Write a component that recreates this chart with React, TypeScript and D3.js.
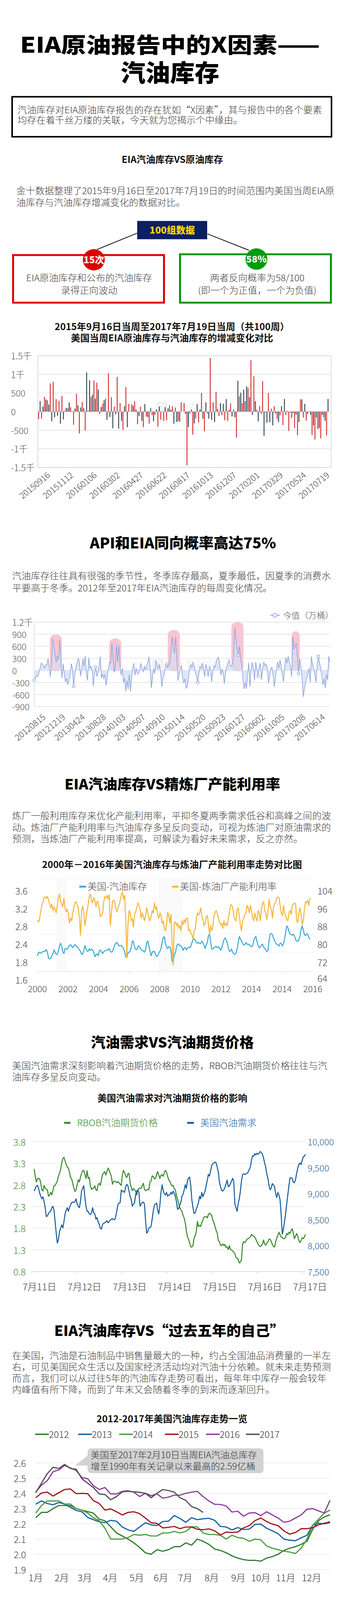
import React from 'react';
import * as d3 from 'd3';

const FONT = "'Noto Sans CJK SC', 'Noto Sans', sans-serif";

// ---------- chart 1: weekly change, crude vs gasoline (万桶)
const weekLabels1 = ['20150916', '20151112', '20160106', '20160302', '20160427', '20160622', '20160817',
  '20161013', '20161207', '20170201', '20170329', '20170524', '20170719'];
const crudeChange = [
  -204, -190, 395, 306, 755, 803, 337, 286, 422, 24,
  95, 119, -354, 480, -585, 262, -507, 24, 395, 837,
  776, -61, 214, 350, 1034, 384, 133, 932, 231, -490,
  660, 207, 197, 276, -337, 133, -418, -133, -323, -92,
  -85, -401, -218, -248, -231, 170, 143, 105, -252, 252,
  228, -1442, -51, -616, -184, -290, 500, -520, -50, 1440,
  250, 530, -120, -90, -230, -250, 220, 60, -700, 410,
  230, 280, 640, 1380, 950, 50, 150, 820, -20, 500,
  80, 150, -200, -100, -360, -90, -520, -170, -440, -640,
  330, -160, -240, 10, -630, -750, -470, -720, -150, -640,
];
const gasolineChange = [
  286, 139, 327, 190, -258, -150, -112, -327, -207, 102,
  248, 14, 82, 173, 112, 92, 1054, 840, 456, 347,
  592, 126, 306, -221, -143, -449, -71, -459, -248, 143,
  -418, 5, 160, 51, -119, -248, 204, -146, 99, -258,
  58, 139, -3, 122, 88, 48, -323, -279, -269, 0,
  -65, -415, 54, -316, 201, 60, -190, 250, -190, -220,
  -280, 70, 230, 210, 340, 50, -130, -150, 830, 510,
  590, 680, 390, -90, 280, -260, -50, -650, -300, -280,
  -370, -50, -280, 150, 340, 20, -20, -40, -80, -280,
  330, 210, -60, -90, -370, -160, -440, -90, -250, 340,
];
const yTicks1 = [1500, 1000, 500, 0, -500, -1000, -1500];
const yTickLabels1 = ['1.5千', '1千', '500', '0', '-500', '-1千', '-1.5千'];

// ---------- chart 2: EIA gasoline weekly change 2012-2017 (万桶)
const eiaWeekly = [
  -240, -190, -140, -160, -60, 50, 180, 160, 120, 60,
  140, 130, 300, 80, -160, 200, 800, 620, 400, 200,
  360, 260, 750, 300, -190, 170, -100, -285, -200, -360,
  -250, -120, 170, 50, -395, -100, 80, 180, 300, 220,
  -140, 40, 290, 100, 360, -80, -250, 320, 60, 100,
  20, -395, -60, 80, -150, -50, 120, 350, -190, -100,
  -200, -100, -380, -150, 50, 200, 180, 680, 300, -50,
  100, 630, 200, 620, 100, -120, 60, -300, -200, -520,
  -250, -470, -100, -520, -200, 80, 180, -120, 60, -80,
  -90, 40, 180, 50, -30, 100, 20, 120, 200, 340,
  100, -440, -200, 50, -80, 240, 120, 60, 150, -50,
  -410, -200, -120, 100, 190, 60, 170, 150, 500, 840,
  540, 420, 840, 300, -250, -100, 50, 120, -180, -315,
  -200, -440, -410, -190, 40, 150, 80, 200, 120, -60,
  -150, -300, -80, 100, 60, 180, 30, -160, 150, 60,
  -160, 100, 50, -285, -40, 120, 80, 230, 290, 330,
  150, -120, 40, -100, -330, -50, 80, 180, 260, 120,
  100, 160, 350, 1060, 750, 540, 380, 600, 300, 120,
  -220, -457, -300, -457, -100, 190, -410, 20, 200, 60,
  -250, 210, 50, -140, 100, 180, -240, 60, 210, 120,
  150, 60, -315, -150, 40, 80, -120, -410, -200, 50,
  215, 60, 260, 100, -120, -280, 80, 320, 180, 350,
  200, 120, -160, 840, 530, 600, 680, 300, -80, 290,
  80, -200, -660, -450, -315, -200, -100, 60, -300, 350,
  150, 40, -100, -300, 120, 350, 200, 60, -150, -360,
  -200, -440, -100, -236, 350, 200,
];
const apiTickLabels = ['20120815', '20121219', '20130424', '20130828', '20140103', '20140507', '20140910',
  '20150114', '20150520', '20150923', '20160127', '20160602', '20161005', '20170208', '20170614'];
const apiTickWeeks = [7, 24, 41, 59, 76, 93, 110, 127, 145, 162, 179, 196, 213, 231, 248];
const winterPeaks = [[13.5, 23.9, 890], [64.7, 75.1, 795], [115.2, 125.6, 1003], [170, 180.5, 1200], [222, 229, 975]];
const markerWeeks = [0, 34, 53, 141, 176, 193, 228, 245];
const yTicks2 = [1200, 900, 600, 300, 0, -300, -600, -900];
const yTickLabels2 = ['1.2千', '900', '600', '300', '0', '-300', '-600', '-900'];

// ---------- chart 3: gasoline stock vs refinery utilisation 2000-2017
const yearStart3 = 2000.01;
const yearStep3 = 0.0721;
const yearTicks3 = [2000, 2002, 2004, 2006, 2008, 2010, 2012, 2014, 2016, 2018];
const yearTickLabels3 = ['2000', '2002', '2004', '2006', '2008', '2010', '2012', '2014', '2014', '2016'];
const leftTicks3 = [3.6, 3.2, 2.8, 2.4, 2.0, 1.6];
const leftTickLabels3 = ['3.6', '3.2', '2.8', '2.4', '1.8', '1.6'];
const rightTicks3 = [104, 96, 88, 80, 72, 64];
const recessions3 = [[2001.25, 2001.9], [2007.95, 2009.5]];
const gasStock3 = [
  2.14, 2.22, 2.21, 2.20, 2.22, 2.23, 2.24, 2.24, 2.28, 2.22,
  2.09, 2.07, 2.08, 2.14, 2.19, 2.27, 2.22, 2.17, 2.17, 2.26,
  2.37, 2.42, 2.34, 2.22, 2.19, 2.30, 2.29, 2.29, 2.33, 2.37,
  2.39, 2.35, 2.32, 2.36, 2.39, 2.37, 2.34, 2.31, 2.27, 2.24,
  2.17, 2.18, 2.26, 2.37, 2.29, 2.24, 2.24, 2.30, 2.26, 2.28,
  2.27, 2.22, 2.12, 2.16, 2.18, 2.14, 2.25, 2.27, 2.23, 2.19,
  2.23, 2.25, 2.26, 2.27, 2.28, 2.30, 2.24, 2.22, 2.23, 2.31,
  2.38, 2.42, 2.44, 2.40, 2.36, 2.37, 2.37, 2.34, 2.30, 2.23,
  2.12, 2.10, 2.20, 2.22, 2.24, 2.33, 2.47, 2.46, 2.34, 2.28,
  2.28, 2.34, 2.36, 2.32, 2.27, 2.26, 2.24, 2.22, 2.27, 2.44,
  2.47, 2.36, 2.24, 2.14, 2.22, 2.24, 2.24, 2.17, 2.12, 2.14,
  2.20, 2.24, 2.30, 2.44, 2.54, 2.57, 2.42, 2.34, 2.30, 2.34,
  2.34, 2.26, 2.02, 1.98, 2.17, 2.20, 2.34, 2.40, 2.40, 2.37,
  2.36, 2.33, 2.26, 2.31, 2.32, 2.27, 2.32, 2.33, 2.32, 2.35,
  2.43, 2.50, 2.52, 2.49, 2.44, 2.42, 2.44, 2.41, 2.41, 2.47,
  2.43, 2.38, 2.30, 2.39, 2.44, 2.59, 2.63, 2.44, 2.29, 2.29,
  2.32, 2.34, 2.35, 2.32, 2.34, 2.31, 2.26, 2.32, 2.40, 2.50,
  2.54, 2.50, 2.43, 2.32, 2.24, 2.24, 2.29, 2.22, 2.18, 2.17,
  2.20, 2.30, 2.44, 2.57, 2.52, 2.47, 2.42, 2.38, 2.39, 2.44,
  2.40, 2.39, 2.40, 2.36, 2.34, 2.36, 2.48, 2.54, 2.57, 2.46,
  2.37, 2.32, 2.33, 2.38, 2.40, 2.33, 2.31, 2.27, 2.23, 2.27,
  2.50, 2.63, 2.64, 2.61, 2.53, 2.47, 2.42, 2.40, 2.38, 2.36,
  2.42, 2.42, 2.36, 2.40, 2.52, 2.67, 2.81, 2.77, 2.68, 2.63,
  2.62, 2.60, 2.62, 2.58, 2.50, 2.47, 2.46, 2.50, 2.58, 2.73,
  2.81, 2.71, 2.61, 2.59, 2.63, 2.62, 2.55, 2.51,
];
const refineryUtil3 = [
  90.8, 90.0, 91.7, 94.8, 97.7, 98.8, 100.8, 101.3, 100.5, 101.4,
  99.9, 98.0, 96.3, 98.0, 95.1, 96.8, 95.7, 94.0, 97.4, 100.8,
  102.5, 99.1, 97.7, 96.8, 100.5, 96.3, 94.5, 95.7, 93.4, 89.4,
  91.7, 90.5, 94.0, 96.8, 98.5, 99.1, 97.4, 96.3, 91.7, 84.0,
  95.1, 97.1, 94.0, 88.3, 91.7, 95.1, 98.0, 101.4, 102.5, 99.7,
  98.5, 100.8, 99.7, 96.8, 99.1, 99.1, 95.7, 92.3, 92.8, 94.0,
  98.5, 101.4, 100.8, 101.9, 100.2, 102.2, 88.3, 94.0, 99.1, 99.7,
  99.1, 96.3, 94.5, 96.3, 97.4, 99.7, 102.2, 103.4, 100.2, 101.9,
  91.7, 74.0, 88.8, 95.1, 94.0, 90.5, 91.4, 87.7, 93.4, 94.5,
  96.3, 98.5, 97.4, 95.7, 91.7, 94.0, 92.3, 90.5, 92.8, 96.3,
  94.0, 91.7, 90.5, 92.3, 95.1, 94.0, 98.5, 95.7, 96.8, 92.8,
  91.7, 94.0, 92.8, 89.4, 90.5, 87.1, 86.0, 88.8, 94.3, 92.8,
  89.4, 93.4, 80.3, 70.6, 89.4, 90.0, 88.3, 89.4, 87.1, 88.3,
  86.0, 90.5, 88.8, 91.1, 89.4, 91.7, 91.7, 86.0, 86.6, 84.9,
  84.3, 82.3, 86.0, 86.6, 91.1, 94.0, 93.1, 94.0, 96.3, 92.3,
  91.1, 88.3, 89.4, 92.5, 92.8, 88.8, 84.3, 88.3, 86.0, 88.3,
  92.8, 94.0, 95.1, 93.7, 91.7, 90.0, 88.8, 89.4, 87.1, 90.5,
  88.3, 89.4, 88.3, 91.7, 94.5, 97.4, 97.7, 96.3, 92.8, 91.1,
  90.5, 95.7, 96.3, 92.3, 88.3, 86.0, 90.5, 91.7, 93.4, 94.0,
  97.4, 96.3, 94.0, 97.4, 95.1, 91.7, 90.5, 94.0, 91.7, 90.5,
  95.1, 94.0, 90.5, 95.7, 98.5, 99.1, 95.1, 94.0, 91.1, 95.1,
  100.2, 96.8, 95.7, 91.7, 96.8, 98.0, 99.1, 100.8, 101.1, 100.8,
  97.4, 94.0, 92.8, 97.4, 94.0, 92.8, 91.1, 90.5, 94.0, 95.1,
  93.4, 97.4, 98.0, 98.5, 98.0, 90.5, 89.7, 94.0, 96.3, 92.8,
  88.8, 90.5, 95.7, 99.1, 98.5, 99.7, 97.4, 100.8,
];

// ---------- chart 4: RBOB price vs US gasoline demand
const dayStart4 = 11.0555;
const dayStep4 = 0.02446;
const dayTicks4 = [11, 12, 13, 14, 15, 16, 17];
const dayLabels4 = ['7月11日', '7月12日', '7月13日', '7月14日', '7月15日', '7月16日', '7月17日'];
const leftTicks4 = [3.8, 3.3, 2.8, 2.3, 1.8, 1.3, 0.8];
const rightTicks4 = [10000, 9500, 9000, 8500, 8000, 7500];
const rbobPrice = [
  3.17, 3.00, 2.87, 2.95, 2.96, 2.94, 2.84, 2.69, 2.66, 2.79,
  2.73, 2.70, 2.69, 2.54, 2.57, 2.63, 2.57, 2.67, 2.78, 2.79,
  2.84, 2.89, 3.01, 3.07, 3.16, 3.31, 3.41, 3.44, 3.36, 3.28,
  3.22, 3.19, 3.10, 2.97, 2.94, 2.84, 2.73, 2.65, 2.69, 2.81,
  2.92, 2.87, 2.98, 3.07, 3.13, 3.14, 3.04, 2.95, 3.13, 2.95,
  2.98, 2.78, 2.70, 2.72, 2.73, 2.78, 2.69, 2.67, 2.81, 2.84,
  2.79, 2.92, 3.04, 3.08, 3.11, 3.03, 3.11, 3.19, 3.14, 3.07,
  3.00, 2.82, 2.88, 2.89, 2.88, 2.85, 2.88, 2.85, 2.82, 2.79,
  3.04, 3.14, 3.08, 3.01, 2.97, 3.06, 3.07, 2.85, 2.75, 2.67,
  2.72, 2.69, 2.66, 2.57, 2.69, 2.72, 2.73, 2.72, 2.78, 2.84,
  2.70, 2.67, 2.69, 2.70, 2.69, 2.87, 2.89, 3.01, 3.00, 2.94,
  2.95, 3.04, 3.11, 3.03, 2.95, 3.03, 3.04, 3.00, 3.08, 3.14,
  3.10, 3.00, 2.92, 2.89, 2.82, 2.78, 2.79, 2.72, 2.69, 2.56,
  2.48, 2.37, 2.28, 2.23, 2.19, 2.10, 2.04, 1.93, 1.75, 1.60,
  1.55, 1.46, 1.37, 1.37, 1.40, 1.58, 1.63, 1.72, 1.96, 1.84,
  1.87, 1.84, 1.93, 1.99, 2.06, 2.07, 2.07, 2.04, 2.12, 2.15,
  2.13, 2.09, 1.99, 1.93, 1.84, 1.75, 1.69, 1.52, 1.49, 1.41,
  1.40, 1.44, 1.40, 1.43, 1.36, 1.37, 1.31, 1.40, 1.31, 1.30,
  1.28, 1.25, 1.22, 1.12, 1.11, 1.09, 1.00, 1.02, 1.08, 1.43,
  1.49, 1.47, 1.50, 1.55, 1.56, 1.58, 1.60, 1.66, 1.63, 1.62,
  1.60, 1.55, 1.49, 1.44, 1.40, 1.38, 1.40, 1.43, 1.53, 1.44,
  1.41, 1.46, 1.49, 1.55, 1.55, 1.49, 1.43, 1.38, 1.37, 1.49,
  1.58, 1.63, 1.71, 1.65, 1.60, 1.59, 1.56, 1.56, 1.60, 1.68,
  1.65, 1.71, 1.68, 1.75, 1.79, 1.69, 1.56, 1.62, 1.68, 1.62,
  1.52, 1.47, 1.52, 1.58, 1.56, 1.60, 1.66,
];
const gasDemand = [
  9050, 9100, 9150, 9160, 9100, 9010, 8950, 8900, 8940, 8850,
  8730, 8560, 8570, 8620, 8650, 8660, 8730, 8760, 8680, 8460,
  8240, 8050, 8120, 8270, 8340, 8400, 8340, 8460, 8610, 8680,
  8730, 8660, 8730, 8780, 8830, 8840, 8830, 8850, 8900, 8800,
  8760, 8730, 8850, 9050, 9110, 9150, 8930, 8760, 8660, 8660,
  8610, 8600, 8630, 8730, 8630, 8610, 8510, 8540, 8460, 8410,
  8330, 8320, 8410, 8430, 8440, 8460, 8480, 8440, 8460, 8490,
  8510, 8520, 8500, 8500, 8560, 8680, 8790, 8820, 8830, 9070,
  9050, 9040, 9025, 9135, 9180, 9150, 9050, 8950, 8890, 8760,
  8800, 8820, 8980, 9050, 9070, 9025, 8760, 8800, 8830, 8840,
  8800, 8490, 8240, 8270, 8340, 8350, 8370, 8510, 8660, 8780,
  8800, 8820, 8680, 8610, 8780, 9025, 9170, 9060, 9000, 8975,
  9025, 8950, 8975, 8975, 9025, 8990, 9050, 9010, 8950, 8850,
  8700, 8710, 8780, 8830, 8950, 8990, 9070, 9170, 9100, 9245,
  9305, 9320, 9150, 8880, 8730, 8620, 8630, 8700, 8760, 8830,
  8950, 8900, 9025, 8940, 9000, 9050, 9160, 9260, 9370, 9340,
  9440, 9540, 9575, 9590, 9610, 9590, 9510, 9415, 9220, 9135,
  9060, 9050, 9075, 9120, 9185, 9260, 9135, 9150, 9195, 9245,
  9295, 9230, 8805, 8730, 8660, 8805, 8900, 9050, 9245, 9370,
  9380, 9370, 9380, 9390, 9415, 9465, 9510, 9635, 9730, 9720,
  9770, 9745, 9780, 9760, 9780, 9810, 9795, 9760, 9685, 9590,
  9510, 9370, 9295, 9150, 9075, 9110, 9195, 9170, 9135, 9000,
  8925, 9025, 8975, 8880, 8585, 8220, 8315, 8460, 8610, 8805,
  8975, 9150, 9305, 9305, 9295, 9220, 9210, 9270, 9390, 9490,
  9560, 9590, 9560, 9635, 9710, 9720, 9760,
];

// ---------- chart 5: weekly gasoline stock by year (亿桶)
const monthLabels5 = ['1月', '2月', '3月', '4月', '5月', '6月', '7月', '8月', '9月', '10月', '11月', '12月'];
const monthWeeks5 = [0, 4.5, 8.5, 12.9, 17.5, 21.7, 25.9, 30.5, 35.1, 39.0, 43.3, 47.8];
const yTicks5 = [2.6, 2.5, 2.4, 2.3, 2.2, 2.1, 2.0, 1.9];
const stock2012 = [2.24, 2.275, 2.275, 2.30, 2.32, 2.32, 2.32, 2.30, 2.29, 2.28, 2.27, 2.23, 2.22, 2.18, 2.14, 2.12, 2.10, 2.075, 2.045, 2.01,
  2.00, 2.03, 2.02, 2.03, 2.05, 2.05, 2.075, 2.06, 2.10, 2.085, 2.065, 2.035, 2.025, 2.01, 1.99, 1.975, 1.965, 1.96, 1.96, 1.955,
  1.975, 1.985, 2.00, 2.025, 2.04, 2.05, 2.065, 2.085, 2.165, 2.22, 2.245, 2.26];
const stock2013 = [2.329, 2.35, 2.333, 2.325, 2.34, 2.329, 2.308, 2.288, 2.279, 2.242, 2.227, 2.213, 2.208, 2.223, 2.217, 2.179, 2.16, 2.15, 2.179, 2.207,
  2.193, 2.189, 2.215, 2.217, 2.254, 2.235, 2.21, 2.24, 2.227, 2.233, 2.236, 2.223, 2.183, 2.179, 2.16, 2.175, 2.163, 2.165, 2.196, 2.198,
  2.171, 2.154, 2.135, 2.10, 2.092, 2.089, 2.108, 2.125, 2.192, 2.204, 2.20, 2.208];
const stock2014 = [2.27, 2.32, 2.35, 2.35, 2.35, 2.33, 2.33, 2.30, 2.29, 2.27, 2.24, 2.22, 2.17, 2.10, 2.10, 2.10, 2.11, 2.13, 2.125, 2.13,
  2.12, 2.12, 2.14, 2.14, 2.15, 2.14, 2.15, 2.18, 2.18, 2.14, 2.13, 2.13, 2.125, 2.10, 2.125, 2.11, 2.105, 2.085, 2.10, 2.095,
  2.055, 2.04, 2.03, 2.02, 2.015, 2.005, 2.04, 2.10, 2.19, 2.23, 2.27, 2.29];
const stock2015 = [2.371, 2.402, 2.408, 2.382, 2.404, 2.425, 2.429, 2.398, 2.40, 2.398, 2.352, 2.333, 2.29, 2.298, 2.279, 2.258, 2.275, 2.279, 2.267, 2.238,
  2.207, 2.203, 2.173, 2.177, 2.183, 2.168, 2.179, 2.179, 2.164, 2.161, 2.167, 2.154, 2.127, 2.146, 2.143, 2.146, 2.173, 2.188, 2.221, 2.238,
  2.215, 2.198, 2.188, 2.154, 2.132, 2.143, 2.168, 2.168, 2.175, 2.193, 2.204, 2.213];
const stock2016 = [2.408, 2.454, 2.483, 2.542, 2.554, 2.583, 2.567, 2.55, 2.504, 2.496, 2.45, 2.425, 2.438, 2.396, 2.396, 2.413, 2.417, 2.408, 2.379, 2.40,
  2.385, 2.396, 2.368, 2.375, 2.388, 2.388, 2.40, 2.408, 2.413, 2.379, 2.35, 2.328, 2.327, 2.317, 2.277, 2.283, 2.25, 2.271, 2.273, 2.254,
  2.279, 2.258, 2.238, 2.21, 2.217, 2.238, 2.258, 2.296, 2.30, 2.285, 2.271, 2.354];
const stock2017 = [2.404, 2.467, 2.529, 2.571, 2.563, 2.59, 2.563, 2.558, 2.496, 2.467, 2.438, 2.396, 2.392, 2.358, 2.379, 2.41, 2.413, 2.41, 2.407, 2.40,
  2.371, 2.40, 2.425, 2.418, 2.408, 2.371, 2.354, 2.313, 2.30, 2.275];
const yearSeries5 = [
  { name: '2012', data: stock2012, color: '#2d7a2e' },
  { name: '2013', data: stock2013, color: '#135fa3' },
  { name: '2014', data: stock2014, color: '#4a9d3f' },
  { name: '2015', data: stock2015, color: '#a11414' },
  { name: '2016', data: stock2016, color: '#8b3b98' },
  { name: '2017', data: stock2017, color: '#505050' },
];

// the capture comes back 4096 px tall, so the 4200-unit layout is fitted into it
const PAGE_W = 880;
const PAGE_H = 4200;
const OUT_H = 4096;
const BODY = '#3c3c3c';

const Txt = ({ x, y, s = 24, w = 300, fill = BODY, anchor = 'start', children, ...rest }: any) => (
  <text x={x} y={y} fontSize={s} fontWeight={w} fill={fill} textAnchor={anchor} fontFamily={FONT} {...rest}>{children}</text>
);

const Para = ({ x, y, lines, dy = 30 }: { x: number; y: number; lines: string[]; dy?: number }) => (
  <g>
    {lines.map((l, i) => <Txt key={i} x={x} y={y + i * dy}>{l}</Txt>)}
  </g>
);

// rotated axis label, anchored at its end
const Slanted = ({ x, y, label }: { x: number; y: number; label: string }) => (
  <g transform={`translate(${x},${y}) rotate(-40)`}>
    <Txt x={0} y={0} s={22} fill="#444" anchor="end">{label}</Txt>
  </g>
);

const Watermark = ({ x, y }: { x: number; y: number }) => (
  <g opacity={0.55}>
    <rect x={x} y={y - 22} width={28} height={26} rx={6} fill="#e4e4e4" />
    <circle cx={x + 14} cy={y - 9} r={7} fill="none" stroke="#fff" strokeWidth={2.5} />
    <Txt x={x + 35} y={y} s={25} fill="#dcdcdc">金十数据中心</Txt>
  </g>
);

function Chart1() {
  const x = d3.scaleBand<number>().domain(d3.range(crudeChange.length)).range([97, 841]);
  const sub = d3.scaleBand<string>().domain(['crude', 'gas']).range([0, x.bandwidth()]).paddingInner(0.4).paddingOuter(0.2);
  const y = d3.scaleLinear().domain([-1500, 1500]).range([1227, 934]);
  const bar = (v: number, i: number, key: string, color: string) => (
    <rect key={key + i} x={(x(i) ?? 0) + (sub(key) ?? 0)} width={sub.bandwidth()}
      y={Math.min(y(v), y(0))} height={Math.abs(y(v) - y(0))} fill={color} />
  );
  return (
    <g>
      {yTicks1.map(t => <line key={t} x1={97} x2={847} y1={y(t)} y2={y(t)} stroke="#e3e3e3" strokeWidth={2} />)}
      <rect x={97} y={934} width={750} height={293} fill="none" stroke="#dcdcdc" strokeWidth={2} />
      {yTicks1.map((t, i) => <Txt key={t} x={28} y={y(t)} s={23} fill="#555" dominantBaseline="central">{yTickLabels1[i]}</Txt>)}
      <Watermark x={400} y={1076} />
      {crudeChange.map((v, i) => bar(v, i, 'crude', '#d4272b'))}
      {gasolineChange.map((v, i) => bar(v, i, 'gas', '#2b3d4f'))}
      {weekLabels1.map((l, k) => <Slanted key={l} x={(x(k * 8) ?? 0) + 33} y={1250} label={l} />)}
    </g>
  );
}

function Chart2() {
  const x = d3.scaleLinear().domain([0, eiaWeekly.length - 1]).range([87.4, 844]);
  const y = d3.scaleLinear().domain([-900, 1200]).range([1855, 1633]);
  const area = d3.area<number>().x((_, i) => x(i)).y0(y(0)).y1(d => y(d));
  const line = d3.line<number>().x((_, i) => x(i)).y(d => y(d));
  return (
    <g>
      {yTicks2.map(t => <line key={t} x1={87} x2={844} y1={y(t)} y2={y(t)} stroke="#e6e6e6" strokeWidth={2} />)}
      <line x1={87.4} x2={87.4} y1={1633} y2={1855} stroke="#dadada" strokeWidth={1.5} />
      {yTicks2.map((t, i) => <Txt key={t} x={31} y={y(t)} s={23} fill="#555" dominantBaseline="central">{yTickLabels2[i]}</Txt>)}
      {winterPeaks.map(([a, b, top], i) => (
        <rect key={i} x={x(a)} width={x(b) - x(a)} y={y(top)} height={y(-20) - y(top)} rx={14} fill="#f9c5d2" />
      ))}
      <Watermark x={390} y={1752} />
      <path d={area(eiaWeekly) ?? ''} fill="#d6ddf3" fillOpacity={0.75} />
      <path d={line(eiaWeekly) ?? ''} fill="none" stroke="#8ca5df" strokeWidth={1.6} />
      {markerWeeks.map(w => <circle key={w} cx={x(w)} cy={y(eiaWeekly[w])} r={3.5} fill="#fff" stroke="#8ca5df" strokeWidth={1.5} />)}
      <line x1={691} x2={716} y1={1615} y2={1615} stroke="#8ca5df" strokeWidth={2} />
      <circle cx={703.5} cy={1615} r={5} fill="#fff" stroke="#8ca5df" strokeWidth={2} />
      <Txt x={724} y={1623} s={21.5} fill="#555">今值（万桶）</Txt>
      {apiTickLabels.map((l, k) => <Slanted key={l} x={x(apiTickWeeks[k]) + 10} y={1885} label={l} />)}
    </g>
  );
}

function Chart3() {
  const x = d3.scaleLinear().domain([2000, 2018]).range([95.5, 800]);
  const yL = d3.scaleLinear().domain([1.6, 3.6]).range([2572, 2338]);
  const yR = d3.scaleLinear().domain([64, 104]).range([2572, 2338]);
  const xi = (i: number) => x(yearStart3 + i * yearStep3);
  const stockLine = d3.line<number>().x((_, i) => xi(i)).y(d => yL(d));
  const utilLine = d3.line<number>().x((_, i) => xi(i)).y(d => yR(d));
  const grid = d3.range(6).map(k => 2306 + k * (2550 - 2306) / 5);
  return (
    <g>
      {recessions3.map(([a, b], i) => <rect key={i} x={x(a)} width={x(b) - x(a)} y={2306} height={244} fill="#fafafa" />)}
      {grid.map((g, i) => <line key={i} x1={90} x2={800} y1={g} y2={g} stroke={i === 5 ? '#e4e4e4' : '#f5f5f5'} strokeWidth={1.5} />)}
      {yearTicks3.slice(0, 9).map(t => <line key={t} x1={x(t)} x2={x(t)} y1={2550} y2={2556} stroke="#e2e2e2" strokeWidth={1.5} />)}
      <rect x={203} y={2325} width={17} height={5} fill="#3aabd9" />
      <Txt x={224} y={2336} s={24} fill="#444">美国-汽油库存</Txt>
      <rect x={440} y={2325} width={17} height={5} fill="#f6b73c" />
      <Txt x={460} y={2336} s={24} fill="#444">美国-炼油厂产能利用率</Txt>
      <path d={stockLine(gasStock3) ?? ''} fill="none" stroke="#3aabd9" strokeWidth={2.6} strokeLinejoin="round" />
      <path d={utilLine(refineryUtil3) ?? ''} fill="none" stroke="#f6b73c" strokeWidth={2.6} strokeLinejoin="round" />
      {leftTicks3.map((t, i) => <Txt key={t} x={39} y={yL(t)} s={24} fill="#444" dominantBaseline="central">{leftTickLabels3[i]}</Txt>)}
      {rightTicks3.map(t => <Txt key={t} x={812} y={yR(t) - (t === 64 ? 4 : 0)} s={24} fill="#444" dominantBaseline="central">{t}</Txt>)}
      {yearTicks3.map((t, i) => <Txt key={t} x={x(t)} y={2605} s={23} fill="#444" anchor="middle">{yearTickLabels3[i]}</Txt>)}
    </g>
  );
}

function Chart4() {
  const x = d3.scaleLinear().domain([11, 17]).range([81, 773]);
  const yL = d3.scaleLinear().domain([0.8, 3.8]).range([3338, 2997]);
  const yR = d3.scaleLinear().domain([7500, 10000]).range([3338, 2997]);
  const xi = (i: number) => x(dayStart4 + i * dayStep4);
  const priceLine = d3.line<number>().x((_, i) => xi(i)).y(d => yL(d));
  const demandLine = d3.line<number>().x((_, i) => xi(i)).y(d => yR(d));
  const green = '#3a8a2c';
  const blue = '#1b5d9c';
  return (
    <g>
      {leftTicks4.map(t => <line key={t} x1={81} x2={781} y1={yL(t)} y2={yL(t)} stroke={t === 0.8 ? '#dcdcdc' : '#ececec'} strokeWidth={2} />)}
      {dayTicks4.map(d => <line key={d} x1={x(d)} x2={x(d)} y1={3338} y2={3344} stroke="#dcdcdc" strokeWidth={1.5} />)}
      <rect x={164} y={2945} width={16} height={5} fill={green} />
      <Txt x={197} y={2956} s={24} fill={green}>RBOB汽油期货价格</Txt>
      <rect x={479} y={2945} width={17} height={5} fill={blue} />
      <Txt x={512} y={2956} s={24} fill={blue}>美国汽油需求</Txt>
      <path d={priceLine(rbobPrice) ?? ''} fill="none" stroke={green} strokeWidth={2.6} strokeLinejoin="round" />
      <path d={demandLine(gasDemand) ?? ''} fill="none" stroke={blue} strokeWidth={2.6} strokeLinejoin="round" />
      {leftTicks4.map(t => <Txt key={t} x={34} y={yL(t)} s={24} fill={green} dominantBaseline="central">{t.toFixed(1)}</Txt>)}
      {rightTicks4.map(t => <Txt key={t} x={787} y={yR(t)} s={23} fill={blue} dominantBaseline="central">{d3.format(',')(t)}</Txt>)}
      {dayTicks4.map((d, i) => <Txt key={d} x={x(d) + 20} y={3387} s={24} fill="#333" anchor="middle">{dayLabels4[i]}</Txt>)}
    </g>
  );
}

function Chart5() {
  const x = d3.scaleLinear().domain([0, 51]).range([91.4, 844.3]);
  const y = d3.scaleLinear().domain([1.9, 2.6]).range([4120, 3840]);
  const line = d3.line<number>().x((_, i) => x(i)).y(d => y(d));
  const legendX = [90, 200, 305, 422, 527, 629];
  return (
    <g>
      {yTicks5.map(t => <line key={t} x1={90} x2={844} y1={y(t)} y2={y(t)} stroke="#eeeeee" strokeWidth={2} />)}
      {yTicks5.map(t => <Txt key={t} x={35} y={y(t)} s={24} fill="#444" dominantBaseline="central">{t.toFixed(1)}</Txt>)}
      {yearSeries5.map((s, i) => (
        <g key={s.name}>
          <line x1={legendX[i]} x2={legendX[i] + 35} y1={3765} y2={3765} stroke={s.color} strokeWidth={3.5} />
          <Txt x={legendX[i] + 35} y={3774} s={24} fill="#333">{s.name}</Txt>
        </g>
      ))}
      {yearSeries5.map(s => <path key={s.name} d={line(s.data) ?? ''} fill="none" stroke={s.color} strokeWidth={3} strokeLinejoin="round" />)}
      {monthLabels5.map((m, i) => <Txt key={m} x={x(monthWeeks5[i])} y={4151} s={24} fill="#333" anchor="middle">{m}</Txt>)}
      <polygon points="228,3818 192,3847 236,3847" fill="#d2d2d2" />
      <rect x={224} y={3802} width={450} height={65} rx={9} fill="#d2d2d2" />
      <Txt x={232} y={3828} s={23.4} fill="#333">美国至2017年2月10日当周EIA汽油总库存</Txt>
      <Txt x={232} y={3858} s={23.4} fill="#333">增至1990年有关记录以来最高的2.59亿桶</Txt>
    </g>
  );
}

export default function App() {
  return (
    <div style={{ width: PAGE_W, height: OUT_H, overflow: 'hidden', position: 'absolute', left: 0, top: 0 }}>
      <style>{`html,body{margin:0;padding:0;background:#fff;overflow:hidden}`}</style>
      <svg width={PAGE_W} height={OUT_H} viewBox={`0 0 ${PAGE_W} ${PAGE_H}`} preserveAspectRatio="none"
        style={{ display: 'block', background: '#fff' }} fontFamily={FONT}>
        <rect width={PAGE_W} height={PAGE_H} fill="#fff" />
        {/* title */}
        <Txt x={435} y={138} s={56} w={900} fill="#000" anchor="middle" textLength={767} lengthAdjust="spacingAndGlyphs">EIA原油报告中的X因素——</Txt>
        <Txt x={435} y={214} s={63} w={900} fill="#000" anchor="middle">汽油库存</Txt>
        <rect x={31} y={254} width={817} height={105} fill="none" stroke="#000" strokeWidth={4} />
        <Para x={45} y={297} dy={27} lines={['汽油库存对EIA原油库存报告的存在犹如“X因素”，其与报告中的各个要素', '均存在着千丝万缕的关联，今天就为您揭示个中缘由。']} />

        {/* section 1 */}
        <Txt x={441} y={428} s={24} w={700} fill="#111" anchor="middle">EIA汽油库存VS原油库存</Txt>
        <Para x={42} y={510} lines={['金十数据整理了2015年9月16日至2017年7月19日的时间范围内美国当周EIA原', '油库存与汽油库存增减变化的数据对比。']} />
        <line x1={351} y1={612} x2={248} y2={655} stroke="#111" strokeWidth={2} />
        <line x1={531} y1={614} x2={637} y2={657} stroke="#111" strokeWidth={2} />
        <rect x={351} y={580} width={179} height={48} fill="#0c1f5f" />
        <Txt x={440.5} y={613} s={24} w={900} fill="#ffd800" anchor="middle">100组数据</Txt>
        <rect x={33.5} y={669.5} width={386} height={125} fill="none" stroke="#e00000" strokeWidth={5} />
        <rect x={460.5} y={667.5} width={386} height={127} fill="none" stroke="#00960a" strokeWidth={5} />
        <circle cx={240} cy={682} r={28} fill="#db0000" />
        <Txt x={240} y={691} s={24} w={900} fill="#fff" anchor="middle">15次</Txt>
        <circle cx={656} cy={680} r={28} fill="#009b10" />
        <Txt x={656} y={689} s={24} w={900} fill="#fff" anchor="middle">58%</Txt>
        <Txt x={228} y={738} anchor="middle">EIA原油库存和公布的汽油库存</Txt>
        <Txt x={228} y={771} anchor="middle">录得正向波动</Txt>
        <Txt x={658} y={738} anchor="middle">两者反向概率为58/100</Txt>
        <Txt x={658} y={771} anchor="middle">(即一个为正值，一个为负值)</Txt>

        <Txt x={440} y={866} s={24} w={700} fill="#111" anchor="middle">2015年9月16日当周至2017年7月19日当周（共100周）</Txt>
        <Txt x={440} y={896} s={24} w={700} fill="#111" anchor="middle">美国当周EIA原油库存与汽油库存的增减变化对比</Txt>
        <Chart1 />

        {/* section 2 */}
        <Txt x={468} y={1440} s={38} w={900} fill="#000" anchor="middle">API和EIA同向概率高达75%</Txt>
        <Para x={31} y={1521} dy={31} lines={['汽油库存往往具有很强的季节性，冬季库存最高，夏季最低，因夏季的消费水', '平要高于冬季。2012年至2017年EIA汽油库存的每周变化情况。']} />
        <Chart2 />

        {/* section 3 */}
        <Txt x={441} y={2072} s={37} w={900} fill="#000" anchor="middle">EIA汽油库存VS精炼厂产能利用率</Txt>
        <Para x={31} y={2150} dy={30.5} lines={['炼厂一般利用库存来优化产能利用率，平抑冬夏两季需求低谷和高峰之间的波', '动。炼油厂产能利用率与汽油库存多呈反向变动，可视为炼油厂对原油需求的', '预测，当炼油厂产能利用率提高，可解读为看好未来需求，反之亦然。']} />
        <Txt x={440} y={2278} s={24} w={700} fill="#111" anchor="middle">2000年－2016年美国汽油库存与炼油厂产能利用率走势对比图</Txt>
        <Chart3 />

        {/* section 4 */}
        <Txt x={441} y={2750} s={37} w={900} fill="#000" anchor="middle">汽油需求VS汽油期货价格</Txt>
        <Para x={31} y={2806} lines={['美国汽油需求深刻影响着汽油期货价格的走势，RBOB汽油期货价格往往与汽', '油库存多呈反向变动。']} />
        <Txt x={441} y={2892} s={24} w={700} fill="#111" anchor="middle">美国汽油需求对汽油期货价格的影响</Txt>
        <Chart4 />

        {/* section 5 */}
        <Txt x={433} y={3507} s={37} w={900} fill="#000" anchor="middle">EIA汽油库存VS“过去五年的自己”</Txt>
        <Para x={31} y={3567} lines={['在美国，汽油是石油制品中销售量最大的一种，约占全国油品消费量的一半左', '右，可见美国民众生活以及国家经济活动均对汽油十分依赖。就未来走势预测', '而言，我们可以从过往5年的汽油库存走势可看出，每年年中库存一般会较年', '内峰值有所下降，而到了年末又会随着冬季的到来而逐渐回升。']} />
        <Txt x={440} y={3733} s={24} w={700} fill="#111" anchor="middle">2012-2017年美国汽油库存走势一览</Txt>
        <Chart5 />
      </svg>
    </div>
  );
}
